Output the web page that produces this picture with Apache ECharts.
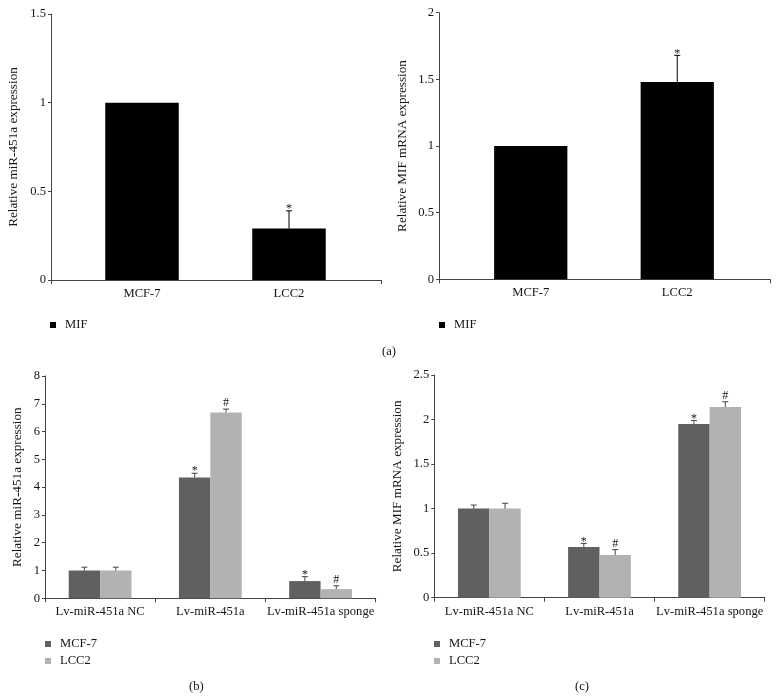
<!DOCTYPE html>
<html>
<head>
<meta charset="utf-8">
<script src="https://cdn.jsdelivr.net/npm/echarts@6/dist/echarts.min.js"></script>
<style>
html,body{margin:0;padding:0;background:#fff;}
#chart{width:778px;height:699px;}
</style>
</head>
<body>
<div id="chart"></div>
<script>
// ---------- data ----------
const catsA = ['MCF-7', 'LCC2'];
const mirA = [1, 0.29];
const mirASd = [0, 0.10];
const mirASig = ['', '*'];
const mifA = [1, 1.48];
const mifASd = [0, 0.20];
const mifASig = ['', '*'];

const catsB = ['Lv-miR-451a NC', 'Lv-miR-451a', 'Lv-miR-451a sponge'];
const mirMcf = [1, 4.35, 0.62];
const mirMcfSd = [0.12, 0.15, 0.16];
const mirMcfSig = ['', '*', '*'];
const mirLcc = [1, 6.69, 0.33];
const mirLccSd = [0.12, 0.12, 0.12];
const mirLccSig = ['', '#', '#'];

const mifMcf = [1, 0.57, 1.95];
const mifMcfSd = [0.04, 0.04, 0.04];
const mifMcfSig = ['', '*', '*'];
const mifLcc = [1, 0.48, 2.14];
const mifLccSd = [0.06, 0.06, 0.06];
const mifLccSig = ['', '#', '#'];

const yMaxA1 = 1.5, yStepA1 = 0.5;
const yMaxA2 = 2, yStepA2 = 0.5;
const yMaxB = 8, yStepB = 1;
const yMaxC = 2.5, yStepC = 0.5;

// ---------- styles ----------
const FONT = 'Liberation Serif';
const TXT = '#151515';
const AX = '#444';
const C_BLACK = '#000000';
const C_DARK = '#606060';
const C_LIGHT = '#b2b2b2';
const CAT_GAP = 0.43;           // barCategoryGap for grouped panels
const BAR_FRAC = (1 - CAT_GAP) / 2;
const FS = 12.6;

const chart = echarts.init(document.getElementById('chart'));

function errSeries(name, xi, yi, vals, sds, sigs, shift, color) {
  return {
    type: 'custom', name: name + '_err', xAxisIndex: xi, yAxisIndex: yi,
    silent: true, z: 5,
    data: vals.map((v, i) => [i, v]),
    renderItem: function (params, api) {
      const i = params.dataIndex;
      const v = vals[i], sd = sds[i], sig = sigs[i];
      const band = api.size([1, 0])[0];
      const off = shift * band * BAR_FRAC / 2;
      const b = api.coord([i, v]);
      const t = api.coord([i, v + sd]);
      const x = b[0] + off;
      const children = [];
      if (sd > 0) {
        children.push({ type: 'line', shape: { x1: x, y1: b[1], x2: x, y2: t[1] }, style: { stroke: color, lineWidth: 1 } });
        children.push({ type: 'line', shape: { x1: x - 3, y1: t[1], x2: x + 3, y2: t[1] }, style: { stroke: color, lineWidth: 1 } });
      }
      if (sig) {
        children.push({ type: 'text', x: x, y: t[1] + (sig === '*' ? 4 : 0),
          style: { text: sig, fill: TXT, font: '12px "' + FONT + '"', align: 'center', verticalAlign: 'bottom' } });
      }
      return { type: 'group', children: children };
    }
  };
}

function axisGridX(gi) {
  return { gridIndex: gi, type: 'category', data: [''], boundaryGap: true,
    axisLine: { show: true, lineStyle: { color: AX, width: 1 } },
    axisTick: { show: true, length: 4, lineStyle: { color: AX } },
    axisLabel: { show: false }, splitLine: { show: false } };
}
function labelX(gi, cats, showLine) {
  return { gridIndex: gi, type: 'category', data: cats,
    axisLine: { show: showLine, onZero: false, lineStyle: { color: AX, width: 1 } },
    axisTick: { show: showLine, length: 4, lineStyle: { color: AX } },
    axisLabel: { show: true, interval: 0, hideOverlap: false, color: TXT, fontFamily: FONT, fontSize: FS, margin: 7 },
    splitLine: { show: false } };
}
function valY(gi, max, step, name, gap, show) {
  return { gridIndex: gi, type: 'value', min: 0, max: max, interval: step, show: show !== false,
    name: name, nameLocation: 'middle', nameGap: gap, nameRotate: 90,
    nameTextStyle: { color: TXT, fontFamily: FONT, fontSize: 13.2 },
    axisLine: { show: true, lineStyle: { color: AX, width: 1 } },
    axisTick: { show: true, length: 3, lineStyle: { color: AX } },
    axisLabel: { color: TXT, fontFamily: FONT, fontSize: FS, margin: 5 },
    splitLine: { show: false } };
}

const legendBase = {
  orient: 'vertical', icon: 'rect', itemWidth: 6, itemHeight: 6, itemGap: 4,
  padding: 0, selectedMode: false,
  textStyle: { color: TXT, fontFamily: FONT, fontSize: FS, padding: [0, 0, 0, 4], lineHeight: 13 }
};
const titleStyle = { color: TXT, fontFamily: FONT, fontSize: FS, fontWeight: 'normal' };

const option = {
  animation: false,
  backgroundColor: '#ffffff',
  title: [
    { text: '(a)', left: 377, top: 340, textStyle: titleStyle },
    { text: '(b)', left: 184, top: 675, textStyle: titleStyle },
    { text: '(c)', left: 570, top: 675, textStyle: titleStyle }
  ],
  legend: [
    Object.assign({}, legendBase, { data: ['MIF'], left: 50, top: 318.5 }),
    Object.assign({}, legendBase, { data: ['MIF'], left: 439, top: 318.5 }),
    Object.assign({}, legendBase, { data: ['MCF-7', 'LCC2'], left: 45, top: 637.5 }),
    Object.assign({}, legendBase, { data: ['MCF-7', 'LCC2'], left: 434, top: 637.5 })
  ],
  grid: [
    { left: 51, top: 14, width: 330, height: 266 },
    { left: 68.5, top: 14, width: 294, height: 266 },
    { left: 439, top: 12.7, width: 331, height: 266.6 },
    { left: 457.5, top: 12.7, width: 293, height: 266.6 },
    { left: 45, top: 376, width: 330.7, height: 222.3 },
    { left: 434.3, top: 375, width: 330.4, height: 222.7 }
  ],
  xAxis: [
    axisGridX(0),
    labelX(1, catsA, false),
    axisGridX(2),
    labelX(3, catsA, false),
    labelX(4, catsB, true),
    labelX(5, catsB, true)
  ],
  yAxis: [
    valY(0, yMaxA1, yStepA1, 'Relative miR-451a expression', 31),
    valY(1, yMaxA1, yStepA1, '', 0, false),
    valY(2, yMaxA2, yStepA2, 'Relative MIF mRNA expression', 30),
    valY(3, yMaxA2, yStepA2, '', 0, false),
    valY(4, yMaxB, yStepB, 'Relative miR-451a expression', 21),
    valY(5, yMaxC, yStepC, 'Relative MIF mRNA expression', 30)
  ],
  series: [
    { type: 'bar', name: 'MIF', xAxisIndex: 1, yAxisIndex: 1, data: mirA, barWidth: '50%', itemStyle: { color: C_BLACK } },
    errSeries('MIF', 1, 1, mirA, mirASd, mirASig, 0, '#000'),
    { type: 'bar', name: 'MIF', xAxisIndex: 3, yAxisIndex: 3, data: mifA, barWidth: '50%', itemStyle: { color: C_BLACK } },
    errSeries('MIF', 3, 3, mifA, mifASd, mifASig, 0, '#000'),

    { type: 'bar', name: 'MCF-7', xAxisIndex: 4, yAxisIndex: 4, data: mirMcf, barGap: '0%', barCategoryGap: (CAT_GAP * 100) + '%', itemStyle: { color: C_DARK } },
    { type: 'bar', name: 'LCC2', xAxisIndex: 4, yAxisIndex: 4, data: mirLcc, barGap: '0%', barCategoryGap: (CAT_GAP * 100) + '%', itemStyle: { color: C_LIGHT } },
    errSeries('MCF-7', 4, 4, mirMcf, mirMcfSd, mirMcfSig, -1, '#444'),
    errSeries('LCC2', 4, 4, mirLcc, mirLccSd, mirLccSig, 1, '#444'),

    { type: 'bar', name: 'MCF-7', xAxisIndex: 5, yAxisIndex: 5, data: mifMcf, barGap: '0%', barCategoryGap: (CAT_GAP * 100) + '%', itemStyle: { color: C_DARK } },
    { type: 'bar', name: 'LCC2', xAxisIndex: 5, yAxisIndex: 5, data: mifLcc, barGap: '0%', barCategoryGap: (CAT_GAP * 100) + '%', itemStyle: { color: C_LIGHT } },
    errSeries('MCF-7', 5, 5, mifMcf, mifMcfSd, mifMcfSig, -1, '#444'),
    errSeries('LCC2', 5, 5, mifLcc, mifLccSd, mifLccSig, 1, '#444')
  ]
};
chart.setOption(option);
</script>
</body>
</html>
